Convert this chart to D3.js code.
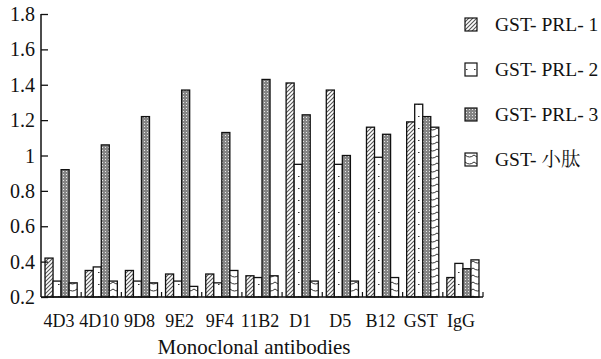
<!DOCTYPE html>
<html>
<head>
<meta charset="utf-8">
<script src="https://cdn.jsdelivr.net/npm/d3@7"></script>
<style>
  body { margin: 0; background: white; }
</style>
</head>
<body>
<div id="chart"></div>
<script>
const categories = ['4D3', '4D10', '9D8', '9E2', '9F4', '11B2', 'D1', 'D5', 'B12', 'GST', 'IgG'];
const seriesNames = ['GST- PRL- 1', 'GST- PRL- 2', 'GST- PRL- 3', 'GST- 小肽'];

const prl1 = [0.42, 0.35, 0.35, 0.33, 0.33, 0.32, 1.41, 1.37, 1.16, 1.19, 0.31];
const prl2 = [0.29, 0.37, 0.29, 0.29, 0.28, 0.31, 0.95, 0.95, 0.99, 1.29, 0.39];
const prl3 = [0.92, 1.06, 1.22, 1.37, 1.13, 1.43, 1.23, 1.00, 1.12, 1.22, 0.36];
const peptide = [0.28, 0.29, 0.28, 0.26, 0.35, 0.32, 0.29, 0.29, 0.31, 1.16, 0.41];

const yTicks = [0.2, 0.4, 0.6, 0.8, 1, 1.2, 1.4, 1.6, 1.8];
const xTitle = 'Monoclonal antibodies';

const series = [prl1, prl2, prl3, peptide];
const patternIds = ['hatch', 'dots', 'mesh', 'wave'];

const font = '"Liberation Serif", "DejaVu Serif", "Noto Serif CJK SC", "Noto Sans CJK SC", serif';

const width = 601, height = 359;
const margin = { top: 14, right: 118, bottom: 62, left: 41 };
const visWidth = width - margin.left - margin.right;
const visHeight = height - margin.top - margin.bottom;

const svg = d3.select('#chart').append('svg')
    .attr('width', width)
    .attr('height', height)
    .style('font-family', font);

const defs = svg.append('defs');

// diagonal hatch
const hatch = defs.append('pattern')
    .attr('id', 'hatch').attr('patternUnits', 'userSpaceOnUse')
    .attr('width', 4).attr('height', 4);
hatch.append('rect').attr('width', 4).attr('height', 4).attr('fill', 'white');
hatch.append('path')
    .attr('d', 'M0,4 L4,0 M-1,1 L1,-1 M3,5 L5,3')
    .attr('stroke', '#555').attr('stroke-width', 1.1);

// sparse dots
const dots = defs.append('pattern')
    .attr('id', 'dots').attr('patternUnits', 'userSpaceOnUse')
    .attr('width', 8).attr('height', 12);
dots.append('rect').attr('width', 8).attr('height', 12).attr('fill', 'white');
dots.append('rect').attr('x', 1).attr('y', 6).attr('width', 1.5).attr('height', 1).attr('fill', '#333');

// dense grey mesh
const mesh = defs.append('pattern')
    .attr('id', 'mesh').attr('patternUnits', 'userSpaceOnUse')
    .attr('width', 3).attr('height', 3);
mesh.append('rect').attr('width', 3).attr('height', 3).attr('fill', '#858585');
mesh.append('rect').attr('x', 1).attr('y', 1).attr('width', 1).attr('height', 1).attr('fill', '#e8e8e8');

// scallops
const wave = defs.append('pattern')
    .attr('id', 'wave').attr('patternUnits', 'userSpaceOnUse')
    .attr('width', 9).attr('height', 7);
wave.append('rect').attr('width', 9).attr('height', 7).attr('fill', 'white');
wave.append('path')
    .attr('d', 'M0,2 Q4.5,6 9,2')
    .attr('fill', 'none').attr('stroke', '#333').attr('stroke-width', 1);

const g = svg.append('g')
    .attr('transform', `translate(${margin.left}, ${margin.top})`);

const x = d3.scaleBand()
    .domain(categories)
    .range([0, visWidth]);

const inner = d3.scaleBand()
    .domain(d3.range(series.length))
    .range([x.bandwidth() * 0.1, x.bandwidth() * 0.9]);

const y = d3.scaleLinear()
    .domain([0.2, 1.8])
    .range([visHeight, 0]);

// bars
series.forEach((values, si) => {
    g.append('g')
        .selectAll('rect')
        .data(values)
        .join('rect')
        .attr('x', (d, i) => x(categories[i]) + inner(si))
        .attr('y', d => y(d))
        .attr('width', inner.bandwidth())
        .attr('height', d => y(0.2) - y(d))
        .attr('fill', `url(#${patternIds[si]})`)
        .attr('stroke', '#111')
        .attr('stroke-width', 1.3);
});

// y axis
const yAxis = g.append('g')
    .call(d3.axisRight(y).tickValues(yTicks).tickSize(7).tickFormat(''));
yAxis.select('.domain').remove();
yAxis.selectAll('.tick line').attr('stroke', '#111').attr('stroke-width', 1.3);
g.append('line')
    .attr('x1', 0).attr('x2', 0).attr('y1', 0).attr('y2', visHeight)
    .attr('stroke', '#111').attr('stroke-width', 1.5);

g.selectAll('.ylab')
    .data(yTicks)
    .join('text')
    .attr('class', 'ylab')
    .attr('x', -6)
    .attr('y', d => y(d))
    .attr('dy', '0.35em')
    .attr('text-anchor', 'end')
    .attr('fill', '#111')
    .style('font-size', '20px')
    .text(d => d3.format('')(d));

// x axis
g.append('line')
    .attr('x1', 0).attr('x2', visWidth).attr('y1', visHeight).attr('y2', visHeight)
    .attr('stroke', '#111').attr('stroke-width', 1.5);

g.selectAll('.xtick')
    .data(categories.slice(1).map(c => x(c)).concat([visWidth]))
    .join('line')
    .attr('class', 'xtick')
    .attr('x1', d => d).attr('x2', d => d)
    .attr('y1', visHeight).attr('y2', visHeight - 5)
    .attr('stroke', '#111').attr('stroke-width', 1.2);

g.selectAll('.xlab')
    .data(categories)
    .join('text')
    .attr('class', 'xlab')
    .attr('x', d => x(d) + x.bandwidth() / 2 - 2)
    .attr('y', visHeight + 30)
    .attr('text-anchor', 'middle')
    .attr('fill', '#111')
    .style('font-size', '18px')
    .text(d => d);

g.append('text')
    .attr('x', visWidth / 2 - 8)
    .attr('y', visHeight + 57)
    .attr('text-anchor', 'middle')
    .attr('fill', '#111')
    .style('font-size', '21px')
    .text(xTitle);

// legend
const legend = svg.append('g')
    .attr('transform', 'translate(465, 18)');

const items = legend.selectAll('g')
    .data(seriesNames)
    .join('g')
    .attr('transform', (d, i) => `translate(0, ${i * 45})`);

items.append('rect')
    .attr('width', 12).attr('height', 13)
    .attr('fill', (d, i) => `url(#${patternIds[i]})`)
    .attr('stroke', '#111').attr('stroke-width', 1.2);

items.append('text')
    .attr('x', 30)
    .attr('y', 12.5)
    .attr('fill', '#111')
    .style('font-size', '19.5px')
    .text(d => d);
</script>
</body>
</html>
